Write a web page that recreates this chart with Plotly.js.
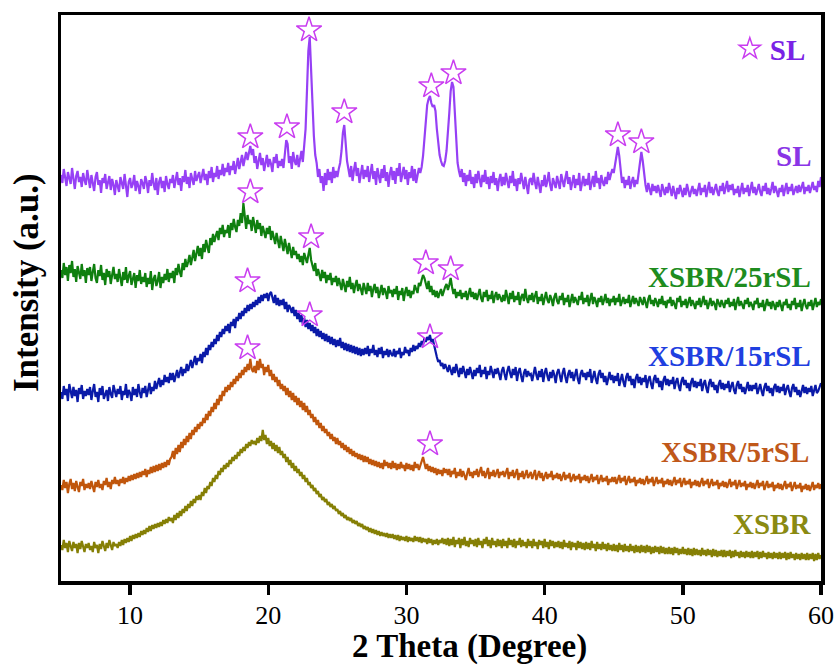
<!DOCTYPE html>
<html>
<head>
<meta charset="utf-8">
<script src="https://cdn.plot.ly/plotly-3.0.1.min.js"></script>
<style>
  html, body { margin: 0; padding: 0; background: #fff; }
  #chart { width: 840px; height: 666px; }
</style>
</head>
<body>
<div id="chart"></div>
<script>
// 2θ sampling grid: 5° to 60° in 0.1° steps
const thetaStart = 5;
const thetaStep = 0.1;

// Stacked XRD patterns (a.u.), one value per grid step, 20 values per 2° row
const intensitySL = [
  406,398,412,401,395,409,403,397,413,400,392,405,410,399,404,394,408,401,396,411,
  400,393,406,398,390,404,409,396,401,388,403,398,407,392,399,405,391,402,396,386,
  401,395,389,404,398,392,407,396,384,399,403,393,397,406,390,400,395,387,402,398,
  392,405,399,388,401,395,408,397,391,403,386,399,404,393,400,389,405,397,392,402,
  398,406,393,401,409,396,403,390,405,399,411,397,404,393,408,402,396,410,400,405,
  409,398,404,412,401,407,396,410,403,414,399,408,404,415,402,411,406,417,405,413,
  409,418,406,415,411,420,407,417,423,412,419,426,415,423,429,421,430,435,426,432,
  418,425,412,421,428,416,423,410,419,426,414,422,417,409,424,418,427,413,420,415,
  422,413,427,441,437,418,425,412,429,420,416,426,414,423,430,419,432,452,490,530,
  544,518,478,445,426,418,404,412,398,405,390,408,396,412,401,409,398,414,403,410,
  404,412,418,430,448,456,438,420,412,404,415,400,411,419,405,413,398,409,416,402,
  411,404,415,399,408,417,402,410,396,413,405,398,412,403,416,400,409,394,407,414,
  401,410,397,413,405,418,399,408,414,402,411,396,409,403,415,400,412,398,406,413,
  408,414,425,445,465,476,482,485,478,474,476,470,452,436,426,420,416,415,420,430,
  445,468,490,499,494,468,440,418,410,404,412,399,408,395,406,400,411,397,404,393,
  407,398,410,401,394,406,399,411,397,404,392,405,398,409,396,403,390,401,407,395,
  404,396,408,400,393,405,398,410,395,402,390,403,397,408,399,392,404,396,387,401,
  403,396,408,399,392,404,397,388,401,395,406,394,400,409,396,390,403,398,393,405,
  398,392,407,400,394,403,410,397,404,391,399,406,393,402,396,408,390,400,405,395,
  402,396,408,391,400,405,394,410,398,403,392,406,399,395,404,397,409,401,407,412,
  408,416,428,434,425,410,398,404,393,401,396,405,392,399,404,394,401,397,410,421,
  429,420,405,396,389,398,392,386,397,390,395,388,396,391,384,397,390,386,394,388,
  398,391,385,395,389,382,393,387,396,390,384,393,386,397,391,384,390,395,387,392,
  385,391,398,386,393,389,396,384,392,399,388,394,386,391,397,389,385,395,390,398,
  387,393,400,389,396,391,397,386,392,388,395,384,391,398,387,393,389,396,385,392,
  399,388,394,386,391,397,389,385,395,390,398,387,393,386,392,399,388,395,390,384,
  393,389,396,385,392,398,387,394,390,397,386,391,395,388,396,389,393,399,387,394,
  390,396,388,393,399,391,395,389,400,394,404
];

const intensity25rSL = [
  311,303,318,306,314,300,316,308,320,304,312,299,315,307,302,317,305,311,298,313,
  306,314,300,309,317,303,298,311,305,316,301,308,296,312,304,310,297,306,314,302,
  307,299,312,303,295,309,301,314,298,305,310,296,303,308,293,306,300,311,297,304,
  299,308,294,303,297,310,291,302,306,295,300,309,293,304,298,307,301,312,299,308,
  303,310,298,313,306,317,309,304,318,311,322,314,319,326,316,324,331,320,328,335,
  325,333,322,337,329,341,334,328,343,336,347,339,345,350,341,353,347,356,344,351,
  348,356,343,358,351,362,354,349,361,355,368,358,378,363,352,366,357,361,350,364,
  356,348,361,352,358,345,355,350,343,353,347,355,341,350,344,337,348,340,333,345,
  337,330,342,333,327,338,330,323,334,326,330,322,327,319,325,316,328,322,318,326,
  333,321,316,310,318,305,312,307,300,311,303,309,298,306,301,308,296,303,299,305,
  295,303,298,291,302,296,289,300,294,304,292,298,288,296,301,290,297,292,286,298,
  293,287,298,290,295,284,292,297,288,294,283,291,296,286,293,289,282,295,288,291,
  284,292,287,295,281,290,286,293,280,289,294,285,291,283,290,287,296,292,288,298,
  295,301,306,303,298,292,300,289,295,286,291,284,290,283,288,292,285,290,294,297,
  291,296,303,294,287,292,283,289,285,291,282,288,284,290,281,287,293,284,289,282,
  288,281,286,292,283,279,289,284,291,280,286,282,290,278,285,289,281,287,283,279,
  286,280,291,283,277,288,282,290,279,285,281,289,276,284,287,280,292,283,278,286,
  281,288,279,285,290,277,284,280,287,276,283,289,281,278,286,282,275,284,288,280,
  277,285,281,288,276,283,279,286,274,282,287,278,284,280,276,285,281,289,277,283,
  279,286,275,282,288,277,284,280,274,283,279,285,276,281,287,278,283,275,282,279,
  285,276,283,279,287,275,281,284,277,282,278,286,274,281,285,277,283,279,275,284,
  280,276,284,278,273,282,286,277,281,275,283,279,274,282,277,285,276,280,273,281,
  278,284,275,281,277,272,283,279,285,274,280,276,282,273,279,284,275,281,277,272,
  280,276,283,274,279,285,276,281,272,278,283,275,280,277,271,282,278,274,281,276,
  273,281,277,283,274,279,275,282,271,278,284,275,280,276,272,281,277,283,274,279,
  276,271,280,277,283,273,278,274,281,270,277,282,275,279,272,280,276,271,279,274,
  281,275,270,279,276,282,273,277,271,280,276,283,272,278,274,281,270,277,282,275,
  272,279,275,281,271,277,283,274,279,276,282
];

const intensity15rSL = [
  189,182,195,186,192,180,197,188,183,194,185,191,179,193,187,196,182,190,185,192,
  186,194,181,190,197,184,189,179,193,186,195,182,188,191,180,194,187,183,196,189,
  184,192,187,195,181,190,186,197,183,191,188,180,194,186,192,184,197,189,183,193,
  188,195,184,191,198,187,194,190,200,192,197,203,194,201,196,206,199,204,198,208,
  201,208,199,206,211,203,209,214,205,212,208,217,210,215,221,213,219,225,216,223,
  220,227,218,229,224,233,226,236,231,239,234,242,237,246,240,249,244,252,247,255,
  250,257,248,259,255,262,253,264,260,268,262,270,265,273,268,276,270,277,272,279,
  274,281,276,284,278,286,280,287,283,288,280,287,289,282,278,286,276,283,275,281,
  276,282,272,279,269,276,273,268,274,265,271,262,268,259,266,257,263,254,261,252,
  258,250,256,248,254,245,252,244,250,242,248,240,247,239,245,237,244,236,242,234,
  241,235,243,233,239,231,238,230,237,229,236,228,235,227,234,226,233,225,232,226,
  233,227,235,225,232,228,236,226,231,224,233,227,234,223,230,226,232,224,231,227,
  225,232,224,230,227,233,223,229,226,234,228,231,225,233,229,236,230,235,232,238,
  234,240,236,243,239,244,241,246,239,242,235,228,224,219,221,215,218,212,217,213,
  209,216,211,206,214,208,217,210,204,213,207,215,209,203,212,206,214,208,202,211,
  205,213,208,216,204,211,207,214,202,210,206,215,209,203,212,207,213,205,201,210,
  214,207,201,210,215,208,203,212,206,214,200,209,213,205,199,208,212,204,210,206,
  207,200,209,214,206,201,210,204,212,199,208,213,205,200,209,203,211,206,198,208,
  212,205,199,208,213,204,198,207,211,203,209,200,206,212,202,197,207,211,204,208,
  201,209,204,212,198,206,210,202,197,207,211,203,208,199,205,196,204,209,201,206,
  198,205,200,208,195,203,207,199,194,204,208,200,205,196,202,193,203,207,198,204,
  196,203,199,206,193,201,205,197,192,202,206,198,203,194,200,191,201,205,196,202,
  195,201,197,204,192,199,203,195,190,200,204,196,201,193,198,190,199,203,194,200,
  193,199,195,202,190,197,201,193,188,198,202,194,199,191,196,188,197,201,192,198,
  191,197,193,200,189,195,199,191,187,196,200,192,197,189,194,187,195,199,190,196,
  190,196,192,198,187,193,197,190,185,194,198,190,195,188,193,185,194,197,189,195,
  188,194,190,197,186,192,196,189,184,193,197,189,194,186,191,184,192,196,188,194,
  187,193,189,195,185,191,196,188,190,194,198
];

const intensity5rSL = [
  96,91,101,93,99,88,97,102,92,98,90,100,94,89,99,95,102,91,97,93,
  98,92,100,95,89,99,94,101,93,97,91,100,96,103,94,99,92,101,97,104,
  97,101,95,102,98,104,97,103,99,105,100,106,101,107,102,108,103,109,104,110,
  106,112,104,111,107,114,108,115,109,116,110,117,111,118,113,119,114,121,116,122,
  124,130,122,133,127,136,129,139,133,142,136,145,139,148,142,151,146,154,149,157,
  152,159,155,163,158,167,161,170,165,174,169,178,172,182,176,186,180,190,185,194,
  189,196,191,199,194,202,197,205,200,208,203,211,206,214,209,217,211,222,212,209,
  215,208,220,211,222,213,217,206,214,209,216,205,211,201,207,199,204,195,201,192,
  197,190,195,186,193,184,190,181,188,179,185,176,183,174,180,171,178,169,175,166,
  171,163,167,159,164,156,161,153,158,150,155,148,152,145,149,142,147,140,144,137,
  143,136,140,133,138,131,136,129,134,127,132,125,130,124,128,122,127,121,126,119,
  125,119,124,117,122,116,121,115,120,114,119,113,118,112,121,115,119,113,118,112,
  120,113,118,111,117,112,119,113,116,110,118,112,117,111,116,110,119,113,117,111,
  116,120,124,118,112,117,110,115,109,114,108,113,106,112,107,111,105,113,108,112,
  106,112,104,110,107,113,103,109,105,112,104,110,106,101,108,113,105,109,103,110,
  106,112,104,109,114,105,110,103,108,113,102,109,105,111,104,108,112,103,109,106,
  110,104,108,113,102,109,105,111,103,107,112,101,108,104,110,102,107,111,103,106,
  109,102,107,111,101,106,110,103,108,100,105,109,102,107,104,110,101,106,103,108,
  102,107,100,105,109,101,106,103,108,99,104,107,100,105,102,107,98,104,101,106,
  100,105,98,103,107,99,104,101,106,97,102,106,99,103,100,105,96,102,99,104,
  99,104,97,102,106,98,103,100,105,96,101,105,98,102,99,104,95,101,98,103,
  97,102,96,101,105,97,102,99,104,95,100,104,97,101,98,103,94,100,97,102,
  96,101,95,100,104,96,101,98,103,94,99,103,96,100,97,102,93,99,96,101,
  95,100,94,99,103,95,100,97,102,93,98,102,95,99,96,101,92,98,95,100,
  94,99,93,98,102,94,99,96,101,92,97,101,94,98,95,100,91,97,94,99,
  93,98,92,97,101,93,98,95,100,91,96,100,93,97,94,99,90,96,93,98,
  92,97,91,96,100,92,97,94,99,90,95,99,92,96,93,98,89,95,92,97,
  91,96,90,95,99,91,96,93,98,92,97
];

const intensityXSBR = [
  36,31,41,33,38,29,40,35,30,39,33,37,28,38,32,40,34,29,37,33,
  38,31,35,29,39,33,36,28,37,32,40,34,30,38,33,41,36,31,39,35,
  37,33,39,35,41,36,42,38,43,39,45,40,46,42,47,43,48,44,50,46,
  51,47,53,49,55,50,56,52,57,53,58,54,59,55,61,57,62,58,64,60,
  63,58,66,61,68,63,70,65,72,68,75,70,77,73,80,75,82,78,85,81,
  86,81,89,85,93,88,95,92,99,95,103,99,106,102,110,106,113,109,116,112,
  118,114,121,117,124,120,126,122,129,125,132,128,134,130,137,133,139,135,141,137,
  140,136,143,138,145,140,151,141,146,137,143,135,140,132,138,130,136,128,134,126,
  130,123,127,119,124,116,121,113,118,110,115,108,112,105,109,102,106,99,103,96,
  99,93,96,90,93,87,90,84,87,81,84,79,82,76,79,74,77,72,75,70,
  72,67,70,65,68,63,66,61,64,60,63,58,61,57,60,55,58,54,57,52,
  55,51,54,49,53,48,52,47,51,46,50,45,49,45,48,44,48,43,47,43,
  47,42,46,41,46,40,45,41,44,40,45,39,44,40,43,39,45,40,44,39,
  44,38,43,39,42,37,43,38,42,36,41,37,42,36,41,38,43,37,42,36,
  43,35,42,36,44,34,41,37,43,33,42,36,44,35,40,34,43,37,41,35,
  42,34,43,36,40,33,42,37,44,35,41,33,43,36,40,34,42,35,41,33,
  42,35,40,33,43,36,41,34,42,33,40,36,43,34,41,35,39,33,42,35,
  40,33,42,35,39,32,41,36,40,33,42,34,39,32,41,35,40,33,39,34,
  40,33,39,32,41,34,38,33,40,31,39,34,38,31,40,33,39,32,38,31,
  39,32,38,31,40,33,37,30,39,32,37,31,39,32,37,30,38,31,36,30,
  37,30,36,29,38,31,36,29,37,30,35,29,37,30,35,28,36,29,35,28,
  36,29,35,28,36,29,35,27,34,28,35,29,34,27,35,28,34,27,33,27,
  34,27,33,26,34,28,33,26,32,27,34,27,32,26,33,26,32,25,33,26,
  32,26,31,25,33,26,31,25,32,26,31,24,32,25,31,24,30,25,31,24,
  31,24,30,25,31,23,30,24,31,25,29,23,30,24,29,23,30,24,29,23,
  30,23,29,24,30,22,29,23,30,24,28,22,29,23,28,22,29,23,28,22,
  29,22,28,23,29,21,28,22,29,23,27,21,28,22,27,21,28,22,27,21,
  28,21,27,22,28,20,27,21,28,22,26
];

// SL reflections marked with stars above each pattern
const starTheta = [18.7, 21.35, 22.95, 25.5, 31.8, 33.4, 45.3, 47.0,
                   18.7, 23.1, 31.4, 33.2,
                   18.5, 23.0, 31.7,
                   18.5, 31.7];
const starIntensity = [444, 454, 551, 469, 495, 508, 446, 439,
                       389, 344, 318, 312,
                       300, 266, 244,
                       233, 137];

const seriesNames = ['SL', 'XSBR/25rSL', 'XSBR/15rSL', 'XSBR/5rSL', 'XSBR'];
const seriesData = [intensitySL, intensity25rSL, intensity15rSL, intensity5rSL, intensityXSBR];
const lineColors = ['#9640f5', '#0f7f0f', '#0a1aa8', '#c0560c', '#857f05'];
const labelColors = ['#8a35e6', '#1e8c1e', '#1f3fe0', '#c0581a', '#8a8a12'];
const labelTheta = [59.42, 59.42, 59.42, 59.28, 59.42];
const labelIntensity = [425, 304, 225, 129, 57];

const serif = 'Liberation Serif';

const traces = seriesData.map((ys, k) => ({
  type: 'scatter',
  mode: 'lines',
  x: ys.map((_, i) => +(thetaStart + i * thetaStep).toFixed(2)),
  y: ys,
  name: seriesNames[k],
  showlegend: false,
  line: { color: lineColors[k], width: 2.2 },
  hoverinfo: 'skip'
}));

traces.push({
  type: 'scatter',
  mode: 'markers',
  x: starTheta,
  y: starIntensity,
  name: '<b>SL</b>',
  showlegend: true,
  marker: { symbol: 'star-open', size: 19, color: '#c93cf0', line: { width: 1.5, color: '#c93cf0' } }
});

const annotations = seriesNames.map((name, k) => ({
  x: labelTheta[k], y: labelIntensity[k], xref: 'x', yref: 'y',
  text: '<b>' + name + '</b>', showarrow: false,
  xanchor: 'right', yanchor: 'middle',
  font: { family: serif, size: 29, color: labelColors[k] }
}));

annotations.push({
  x: 0.538, y: -0.1166, xref: 'paper', yref: 'paper',
  text: '<b>2 Theta (Degree)</b>', showarrow: false,
  xanchor: 'center', yanchor: 'middle',
  font: { family: serif, size: 33, color: '#000' }
});
annotations.push({
  x: -0.046, y: 0.5265, xref: 'paper', yref: 'paper',
  text: '<b>Intensity (a.u.)</b>', showarrow: false, textangle: -90,
  xanchor: 'center', yanchor: 'middle',
  font: { family: serif, size: 35, color: '#000' }
});

const layout = {
  width: 840,
  height: 666,
  margin: { l: 61, r: 19, t: 15, b: 85 },
  paper_bgcolor: '#ffffff',
  plot_bgcolor: '#ffffff',
  font: { family: serif },
  showlegend: true,
  legend: {
    x: 0.88, y: 0.94, xanchor: 'left', yanchor: 'middle',
    bgcolor: 'rgba(0,0,0,0)',
    font: { family: serif, size: 29, color: '#7a22e6' }
  },
  xaxis: {
    range: [5, 60],
    dtick: 10,
    tick0: 0,
    ticks: 'outside',
    ticklen: 10,
    tickwidth: 3.5,
    tickcolor: '#000',
    ticklabelstandoff: -2,
    showline: true,
    linewidth: 3.5,
    linecolor: '#000',
    mirror: true,
    showgrid: false,
    zeroline: false,
    tickfont: { family: serif, size: 26, color: '#000' }
  },
  yaxis: {
    range: [0, 566],
    showticklabels: false,
    ticks: '',
    showline: true,
    linewidth: 3.5,
    linecolor: '#000',
    mirror: true,
    showgrid: false,
    zeroline: false
  },
  annotations: annotations
};

Plotly.newPlot('chart', traces, layout, { displayModeBar: false, staticPlot: true });
</script>
</body>
</html>
